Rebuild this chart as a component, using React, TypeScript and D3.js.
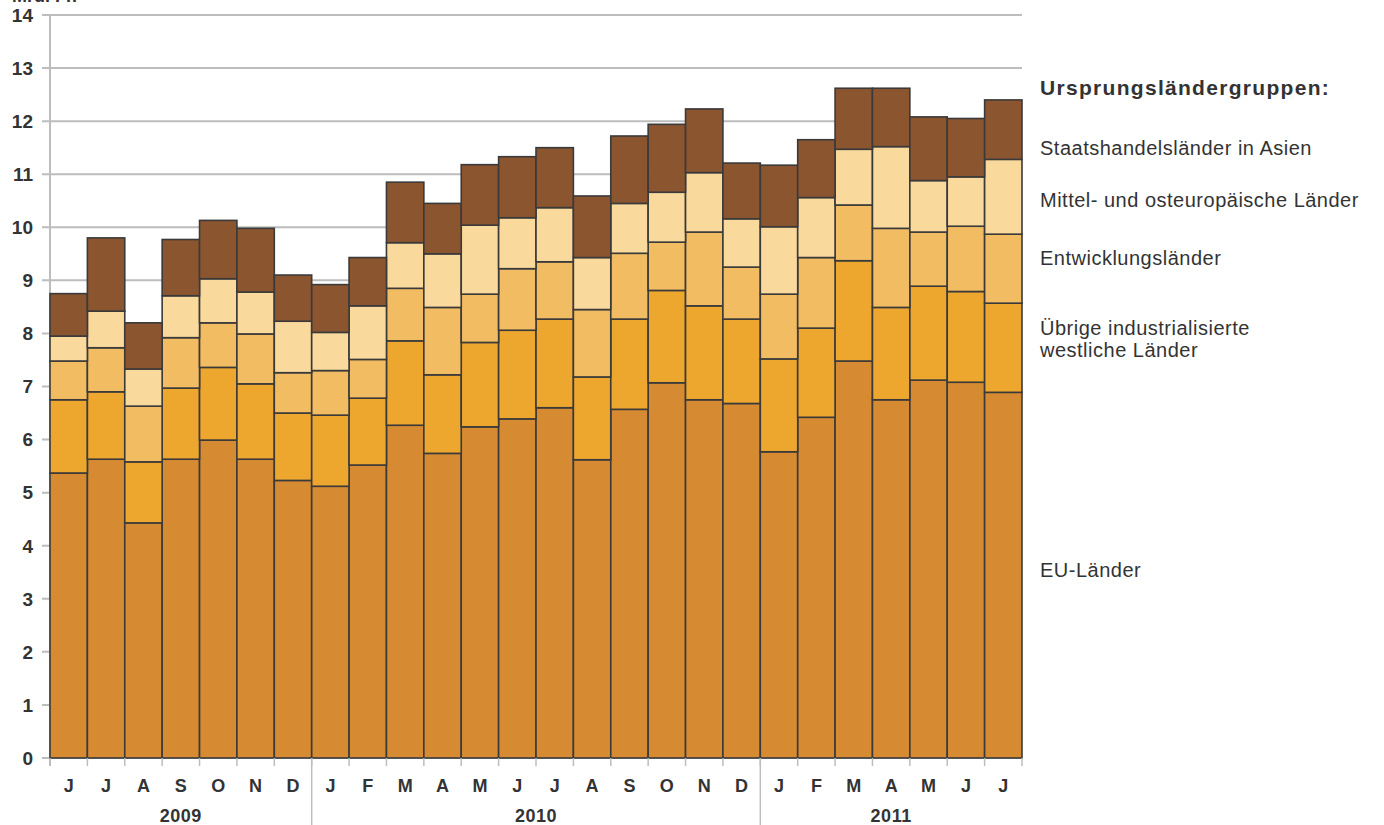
import React from "react";
import * as d3 from "d3";

const months = ["J","J","A","S","O","N","D","J","F","M","A","M","J","J","A","S","O","N","D","J","F","M","A","M","J","J"];
const years = [
  { label: "2009", start: 0, end: 7 },
  { label: "2010", start: 7, end: 19 },
  { label: "2011", start: 19, end: 26 },
];

const euLaender = [5.37,5.63,4.43,5.63,5.99,5.63,5.23,5.12,5.52,6.27,5.74,6.24,6.39,6.60,5.62,6.57,7.07,6.75,6.68,5.77,6.42,7.48,6.75,7.12,7.08,6.89];
const uebrigeWestliche = [1.38,1.27,1.15,1.34,1.37,1.42,1.27,1.34,1.26,1.59,1.48,1.59,1.67,1.67,1.56,1.70,1.74,1.77,1.59,1.75,1.68,1.89,1.74,1.77,1.71,1.68];
const entwicklungslaender = [0.73,0.83,1.05,0.95,0.84,0.94,0.76,0.84,0.73,0.99,1.27,0.91,1.16,1.08,1.27,1.24,0.91,1.39,0.98,1.22,1.33,1.05,1.49,1.02,1.23,1.30];
const mittelOsteuropa = [0.47,0.69,0.70,0.79,0.83,0.79,0.97,0.72,1.01,0.86,1.01,1.30,0.96,1.02,0.98,0.94,0.94,1.12,0.91,1.27,1.13,1.05,1.54,0.97,0.93,1.41];
const staatshandelAsien = [0.80,1.38,0.87,1.06,1.10,1.20,0.87,0.90,0.91,1.14,0.95,1.14,1.15,1.13,1.16,1.27,1.28,1.20,1.05,1.16,1.09,1.15,1.10,1.20,1.10,1.12];

const yTicks = [0,1,2,3,4,5,6,7,8,9,10,11,12,13,14];

const seriesKeys = ["eu","uebrige","entw","mittel","staats"];
const seriesColors = ["#D68B33","#EDA72F","#F2BC63","#F9D99C","#8B552F"];

const legendTitle = "Ursprungsländergruppen:";
const legendItems = [
  { lines: ["Staatshandelsländer in Asien"], y: 155 },
  { lines: ["Mittel- und osteuropäische Länder"], y: 207 },
  { lines: ["Entwicklungsländer"], y: 265 },
  { lines: ["Übrige industrialisierte", "westliche Länder"], y: 335 },
  { lines: ["EU-Länder"], y: 577 },
];

export default function App() {
  const W = 1384, H = 825;
  const left = 50, right = 1022, top = 15, bottom = 758;
  const idx = months.map((_, i) => i);
  const x = d3.scaleBand<number>().domain(idx).range([left, right]).padding(0);
  const y = d3.scaleLinear().domain([0, 14]).range([bottom, top]);

  const table = months.map((m, i) => ({
    eu: euLaender[i],
    uebrige: uebrigeWestliche[i],
    entw: entwicklungslaender[i],
    mittel: mittelOsteuropa[i],
    staats: staatshandelAsien[i],
  }));
  const stacked = d3.stack<any>().keys(seriesKeys)(table);

  const font = "'Liberation Sans', Arial, Helvetica, sans-serif";
  const txt = "#333";
  const grid = "#BDBDBD";

  return (
    <svg width={W} height={H} style={{ position: "absolute", left: 0, top: 0, background: "#fff" }} fontFamily={font}>
      <text x={12} y={2} fontSize={18} fontWeight="bold" fill={txt}>Mrd. Fr.</text>
      {yTicks.map(t => (
        <g key={"g" + t}>
          <line x1={42} x2={right} y1={y(t)} y2={y(t)} stroke={grid} strokeWidth={2} />
          <text x={33} y={y(t)} dy="0.36em" textAnchor="end" fontSize={19} fontWeight="bold" fill={txt}>{t}</text>
        </g>
      ))}
      <line x1={left} x2={left} y1={top} y2={bottom + 8} stroke={grid} strokeWidth={2} />
      {stacked.map((s, si) => (
        <g key={s.key}>
          {s.map((d, i) => (
            <rect key={i} x={x(i)!} width={x.bandwidth()} y={y(d[1])} height={y(d[0]) - y(d[1])}
              fill={seriesColors[si]} stroke="#3a3a3a" strokeWidth={1.6} />
          ))}
        </g>
      ))}
      {d3.range(months.length + 1).map(i => {
        const xx = i < months.length ? x(i)! : x(months.length - 1)! + x.bandwidth();
        return <line key={"xt" + i} x1={xx} x2={xx} y1={bottom} y2={bottom + 8} stroke={grid} strokeWidth={1.5} />;
      })}
      {months.map((m, i) => (
        <text key={"m" + i} x={x(i)! + x.bandwidth() / 2} y={792} textAnchor="middle" fontSize={18} fontWeight="bold" fill={txt}>{m}</text>
      ))}
      {years.map((yr, i) => {
        const x0 = x(yr.start)!;
        const x1 = yr.end < months.length ? x(yr.end)! : right;
        return (
          <g key={yr.label}>
            <text x={(x0 + x1) / 2} y={822} textAnchor="middle" fontSize={18} fontWeight="bold" letterSpacing={0.5} fill={txt}>{yr.label}</text>
            {i > 0 && <line x1={x0} x2={x0} y1={bottom} y2={H} stroke={grid} strokeWidth={1.5} />}
          </g>
        );
      })}
      <text x={1040} y={95} fontSize={21} fontWeight="bold" letterSpacing={1.3} fill={txt}>{legendTitle}</text>
      {legendItems.map((it, i) => (
        <text key={"l" + i} x={1040} y={it.y} fontSize={20} letterSpacing={0.5} fill={txt}>
          {it.lines.map((ln, j) => (
            <tspan key={j} x={1040} dy={j === 0 ? 0 : 22}>{ln}</tspan>
          ))}
        </text>
      ))}
    </svg>
  );
}
